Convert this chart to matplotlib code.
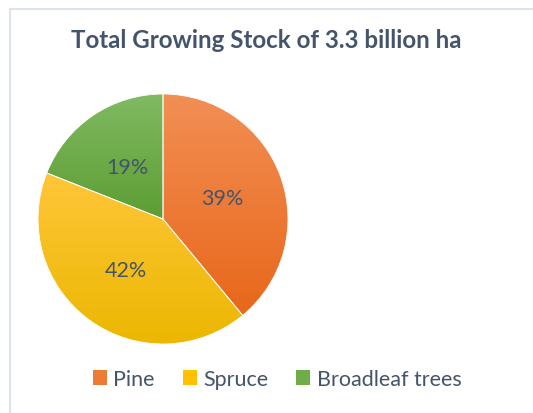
import matplotlib.pyplot as plt
import matplotlib.colors as mcolors
from matplotlib.patches import Patch
import numpy as np

labels = ["Pine", "Spruce", "Broadleaf trees"]
shares = [39, 42, 19]
top_colors = ["#F28F55", "#FFC63A", "#80BA62"]
bottom_colors = ["#E8671A", "#EBB700", "#5C9D32"]
legend_colors = ["#EE7B34", "#FFC000", "#6FAE47"]
text_color = "#44546A"

plt.rcParams["font.family"] = ["Lato", "DejaVu Sans"]

W, H = 533, 414
fig = plt.figure(figsize=(W / 100, H / 100), dpi=100)

# chart frame (only left and top edges are visible)
fig.add_artist(plt.Line2D([9.5 / W, 9.5 / W], [0, 1 - 9.5 / H], color="#DDE3EC", lw=1.5))
fig.add_artist(plt.Line2D([9.5 / W, 1], [1 - 9.5 / H, 1 - 9.5 / H], color="#DDE3EC", lw=1.5))

cx, cy, r = 163, 220, 125
ax = fig.add_axes([(cx - r) / W, (H - cy - r) / H, 2 * r / W, 2 * r / H])

wedges, texts, autotexts = ax.pie(
    shares,
    startangle=90,
    counterclock=False,
    autopct="%1.0f%%",
    pctdistance=0.5,
    textprops={"color": text_color, "fontsize": 15.5},
    wedgeprops={"linewidth": 0.6, "edgecolor": "white"},
)

# vertical gradient fill for each slice
for w, c_top, c_bot in zip(wedges, top_colors, bottom_colors):
    ext = w.get_path().get_extents()
    cmap = mcolors.LinearSegmentedColormap.from_list("g", [c_bot, c_top])
    grad = np.linspace(0, 1, 256).reshape(-1, 1)
    im = ax.imshow(grad, cmap=cmap, origin="lower", aspect="auto",
                   extent=[ext.x0, ext.x1, ext.y0, ext.y1], zorder=1)
    im.set_clip_path(w)
    w.set_facecolor("none")
    w.set_zorder(2)
for t in autotexts:
    t.set_zorder(3)
ax.set_xlim(-1, 1)
ax.set_ylim(-1, 1)
ax.set_aspect("equal")
ax.axis("off")

fig.text(266 / W, 1 - 40 / H, "Total Growing Stock of 3.3 billion ha",
         ha="center", va="center", fontsize=17.4, fontweight="bold", color=text_color)

handles = [Patch(facecolor=c, edgecolor="none") for c in legend_colors]
fig.legend(handles, labels, loc="center", bbox_to_anchor=(277 / W, 1 - 380 / H),
           ncol=3, frameon=False, fontsize=15.5, labelcolor=text_color,
           handlelength=0.65, handleheight=0.65, handletextpad=0.3, columnspacing=1.3)

fig.savefig("out.png", dpi=100)
